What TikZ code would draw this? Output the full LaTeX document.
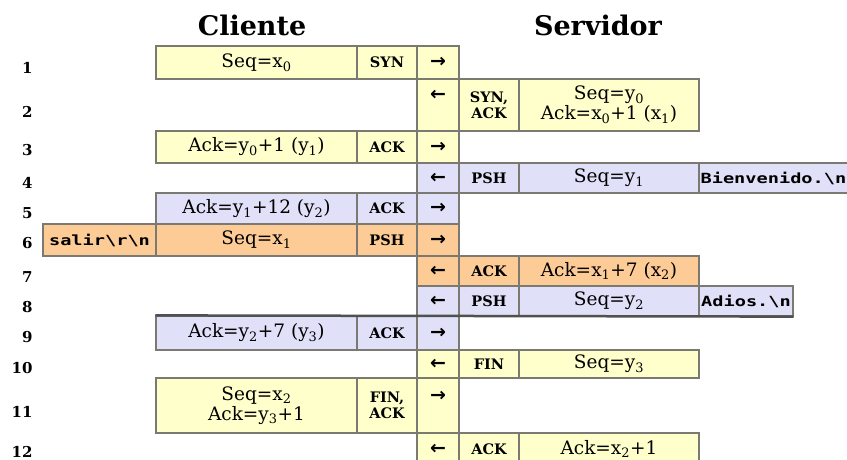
\documentclass[tikz,border=0pt]{standalone}
\usepackage{fontspec}
\setmainfont{DejaVu Serif}
\newfontfamily\arrowfont{DejaVu Sans}
\newfontfamily\datafont{DejaVu Sans Mono}[FakeStretch=1.33]
\usepackage{xcolor}
\usepackage{tikz}
\usetikzlibrary{positioning}

\definecolor{rowyel}{HTML}{FFFFCC}
\definecolor{rowlav}{HTML}{E0E0F8}
\definecolor{rowora}{HTML}{FCCB96}
\definecolor{cellline}{HTML}{7A7A72}
\definecolor{darkline}{HTML}{505050}

\begin{document}
\begin{tikzpicture}[
  x=1pt, y=-1pt,
  font=\fontsize{18.5}{20}\selectfont,
  cell/.style={draw=cellline, line width=1.2pt, inner sep=1pt, align=center},
  yel/.style={fill=rowyel},
  lav/.style={fill=rowlav},
  ora/.style={fill=rowora},
  rowh/.style={minimum height=#1pt},
  cmain/.style={cell, minimum width=201pt},
  cflag/.style={cell, minimum width=60pt, font=\fontsize{14.5}{16}\selectfont\bfseries},
  arr/.style={cell, minimum width=42pt, font=\arrowfont\fontsize{19}{19}\selectfont\bfseries},
  sflag/.style={cell, minimum width=60pt, font=\fontsize{14.5}{16}\selectfont\bfseries},
  smain/.style={cell, minimum width=180pt},
  data/.style={cell, font=\datafont\bfseries\fontsize{14}{16}\selectfont},
  head/.style={font=\fontsize{27}{29}\selectfont\bfseries},
  num/.style={anchor=east, font=\fontsize{15}{17}\selectfont\bfseries}
]
  \useasboundingbox (0,0) rectangle (847,460);
  \clip (0,0) rectangle (847,460);

  % headers
  \node[head] (cliente) at (252,25) {Cliente};
  \node[head] (servidor) at (598,25) {Servidor};

  % row numbers
  \node[num] (n1) at (36,68) {1};
  \node[num] (n2) at (36,112) {2};
  \node[num] (n3) at (36,150) {3};
  \node[num] (n4) at (36,183) {4};
  \node[num] (n5) at (36,213) {5};
  \node[num] (n6) at (36,243) {6};
  \node[num] (n7) at (36,277) {7};
  \node[num] (n8) at (36,307) {8};
  \node[num] (n9) at (36,337) {9};
  \node[num] (n10) at (36,368) {10};
  \node[num] (n11) at (36,412) {11};
  \node[num] (n12) at (36,452) {12};

  % 1
  \node[cmain, yel, rowh=33] (m1) at (256.5,62.5) {Seq=x\textsubscript{0}};
  \node[cflag, yel, rowh=33] (f1) at (387,62.5) {SYN};
  \node[arr, yel, rowh=33] (a1) at (438,62.5) {→};
  % 2
  \node[arr, yel, rowh=52] (a2) at (438,105) {←\\~};
  \node[sflag, yel, rowh=52] (f2) at (489,105) {SYN,\\ACK};
  \node[smain, yel, rowh=52] (m2) at (609,105) {Seq=y\textsubscript{0}\\Ack=x\textsubscript{0}+1 (x\textsubscript{1})};
  % 3
  \node[cmain, yel, rowh=32] (m3) at (256.5,147) {Ack=y\textsubscript{0}+1 (y\textsubscript{1})};
  \node[cflag, yel, rowh=32] (f3) at (387,147) {ACK};
  \node[arr, yel, rowh=32] (a3) at (438,147) {→};
  % 4
  \node[arr, lav, rowh=30] (a4) at (438,178) {←};
  \node[sflag, lav, rowh=30] (f4) at (489,178) {PSH};
  \node[smain, lav, rowh=30] (m4) at (609,178) {Seq=y\textsubscript{1}};
  \node[data, lav, rowh=30, anchor=west, text width=160pt, align=left] (d4) at (699,178) {Bienvenido.\textbackslash n};
  % 5
  \node[cmain, lav, rowh=31] (m5) at (256.5,208.5) {Ack=y\textsubscript{1}+12 (y\textsubscript{2})};
  \node[cflag, lav, rowh=31] (f5) at (387,208.5) {ACK};
  \node[arr, lav, rowh=31] (a5) at (438,208.5) {→};
  % 6
  \node[data, ora, rowh=32, minimum width=113pt] (d6) at (99.5,240) {salir\textbackslash r\textbackslash n};
  \node[cmain, ora, rowh=32] (m6) at (256.5,240) {Seq=x\textsubscript{1}};
  \node[cflag, ora, rowh=32] (f6) at (387,240) {PSH};
  \node[arr, ora, rowh=32] (a6) at (438,240) {→};
  % 7
  \node[arr, ora, rowh=30] (a7) at (438,271) {←};
  \node[sflag, ora, rowh=30] (f7) at (489,271) {ACK};
  \node[smain, ora, rowh=30] (m7) at (609,271) {Ack=x\textsubscript{1}+7 (x\textsubscript{2})};
  % 8
  \node[arr, lav, rowh=30] (a8) at (438,301) {←};
  \node[sflag, lav, rowh=30] (f8) at (489,301) {PSH};
  \node[smain, lav, rowh=30] (m8) at (609,301) {Seq=y\textsubscript{2}};
  \node[data, lav, rowh=30, minimum width=94pt] (d8) at (746,301) {Adios.\textbackslash n};
  % 9
  \node[cmain, lav, rowh=34] (m9) at (256.5,333) {Ack=y\textsubscript{2}+7 (y\textsubscript{3})};
  \node[cflag, lav, rowh=34] (f9) at (387,333) {ACK};
  \node[arr, lav, rowh=34] (a9) at (438,333) {→};
  \draw[line width=2.5pt, draw=darkline] (m9.north west) -- (d8.south east);
  % 10
  \node[arr, yel, rowh=28] (a10) at (438,364) {←};
  \node[sflag, yel, rowh=28] (f10) at (489,364) {FIN};
  \node[smain, yel, rowh=28] (m10) at (609,364) {Seq=y\textsubscript{3}};
  % 11
  \node[cmain, yel, rowh=55] (m11) at (256.5,405.5) {Seq=x\textsubscript{2}\\Ack=y\textsubscript{3}+1};
  \node[cflag, yel, rowh=55] (f11) at (387,405.5) {FIN,\\ACK};
  \node[arr, yel, rowh=55] (a11) at (438,405.5) {→\\~};
  % 12
  \node[arr, yel, rowh=32] (a12) at (438,449) {←};
  \node[sflag, yel, rowh=32] (f12) at (489,449) {ACK};
  \node[smain, yel, rowh=32] (m12) at (609,449) {Ack=x\textsubscript{2}+1};
\end{tikzpicture}
\end{document}
